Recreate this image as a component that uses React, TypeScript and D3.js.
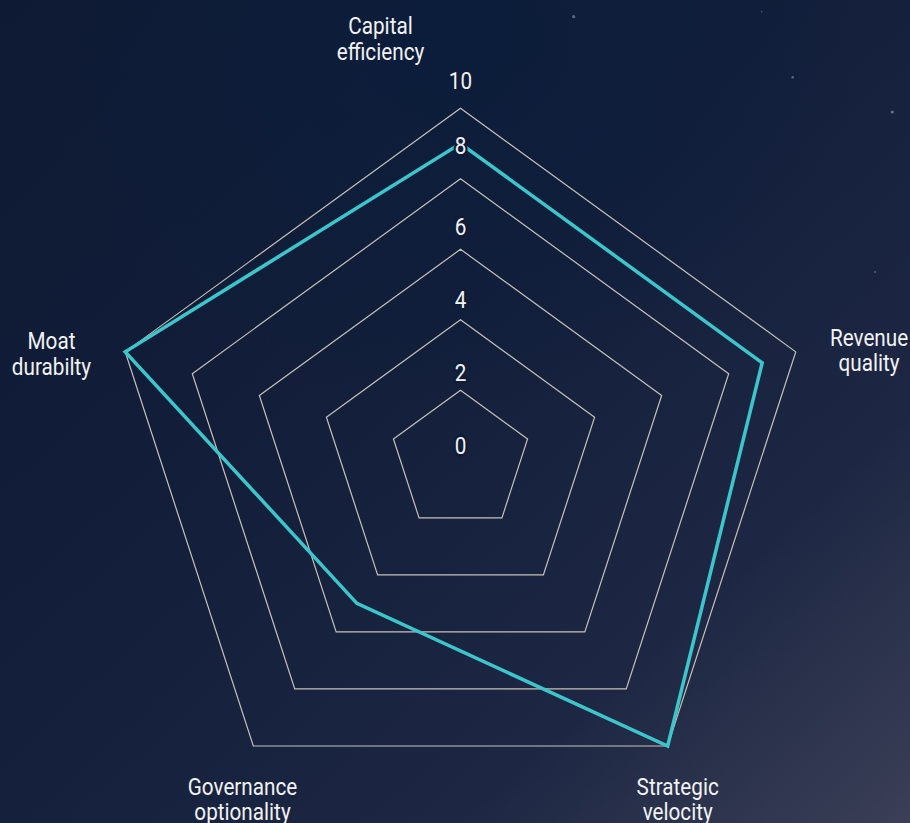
import React from 'react';
import * as d3 from 'd3';

// ---- data ----
const axisNames: string[][] = [
  ['Capital', 'efficiency'],
  ['Revenue', 'quality'],
  ['Strategic', 'velocity'],
  ['Governance', 'optionality'],
  ['Moat', 'durabilty'],
];
const seriesValues: number[] = [9, 9, 10, 5, 10];
const ringLevels: number[] = [2, 4, 6, 8, 10];
const tickValues: number[] = [0, 2, 4, 6, 8, 10];
// decorative background stars: [x, y, r, opacity]
const stars: number[][] = [
  [573.7, 16.7, 1.6, 0.55],
  [761.7, 11.7, 0.8, 0.5],
  [792.7, 77.3, 1.3, 0.55],
  [892.3, 112, 1.6, 0.6],
  [875, 272, 0.9, 0.5],
];

// ---- layout ----
const W = 910;
const H = 823;
const cx = 460.5;
const cy = 460.8;
const R = 352.5;
const FONT = 'Roboto, "Noto Sans", sans-serif';
const FS = 23;
const SX = 0.9;
const LINE_H = 25.5;
// label offset from the outer vertex: [dx to text centre, dy to first baseline]
const labelOffsets: number[][] = [
  [-80, -74],
  [73.3, -6.2],
  [10, 49],
  [-10.8, 49],
  [-73.8, -2.6],
];

export default function App() {
  const n = axisNames.length;
  const angle = d3.scaleLinear().domain([0, n]).range([0, 2 * Math.PI]);
  const r = d3.scaleLinear().domain([0, 10]).range([0, R]);
  const tickPos = d3.scaleLinear().domain([0, 10]).range([15, 380]);

  const radial = d3
    .lineRadial<number>()
    .angle((_, i) => angle(i))
    .curve(d3.curveLinearClosed);

  const ringPath = (lvl: number) => radial.radius(() => r(lvl))(d3.range(n))!;
  const dataPath = radial.radius((d) => r(d))(seriesValues)!;

  const vertex = (i: number, v: number) => {
    const a = angle(i);
    return [cx + Math.sin(a) * r(v), cy - Math.cos(a) * r(v)];
  };

  // tick label distance; a label that lands near the data point on the top axis snaps onto it
  const tickDist = (t: number) => {
    const d = tickPos(t);
    const dv = r(seriesValues[0]);
    return Math.abs(d - dv) < 12 ? dv - 2.5 : d;
  };

  return (
    <svg
      width={W}
      height={H}
      style={{ position: 'absolute', left: 0, top: 0, display: 'block' }}
      fontFamily={FONT}
    >
      <defs>
        <linearGradient id="bg" x1="0" y1="0" x2="1" y2="1">
          <stop offset="0" stopColor="#0e1a33" />
          <stop offset="0.45" stopColor="#131f3b" />
          <stop offset="0.75" stopColor="#1d2743" />
          <stop offset="1" stopColor="#3b3f57" />
        </linearGradient>
        <radialGradient id="glow" cx="0.5" cy="0.05" r="0.45">
          <stop offset="0" stopColor="#0a1d3c" stopOpacity="0.8" />
          <stop offset="1" stopColor="#0a1d3c" stopOpacity="0" />
        </radialGradient>
      </defs>
      <rect width={W} height={H} fill="url(#bg)" />
      <rect width={W} height={H} fill="url(#glow)" />
      {stars.map((s, i) => (
        <circle key={i} cx={s[0]} cy={s[1]} r={s[2]} fill="#9aa6bd" opacity={s[3]} />
      ))}
      <g transform={`translate(${cx},${cy})`}>
        {ringLevels.map((lvl) => (
          <path key={lvl} d={ringPath(lvl)} fill="none" stroke="#c8c2b6" strokeWidth={1.2} />
        ))}
        <path d={dataPath} fill="none" stroke="#3cc5cb" strokeWidth={3.5} strokeLinejoin="miter" />
      </g>
      {tickValues.map((t) => (
        <g key={t} transform={`translate(${cx},${cy - tickDist(t) + 8.2}) scale(${SX},1)`}>
          <text
            textAnchor="middle"
            fontSize={FS}
            fill="#f2f2f2"
            stroke="#101c37"
            strokeWidth={5}
            paintOrder="stroke"
            strokeLinejoin="round"
          >
            {t}
          </text>
        </g>
      ))}
      {axisNames.map((lines, i) => {
        const [vx, vy] = vertex(i, 10);
        const [ox, oy] = labelOffsets[i];
        return (
          <g key={i} transform={`translate(${vx + ox},${vy + oy}) scale(${SX},1)`}>
            <text textAnchor="middle" fontSize={FS} fill="#f2f2f2">
              {lines.map((ln, j) => (
                <tspan key={j} x={0} y={j * LINE_H}>
                  {ln}
                </tspan>
              ))}
            </text>
          </g>
        );
      })}
    </svg>
  );
}
